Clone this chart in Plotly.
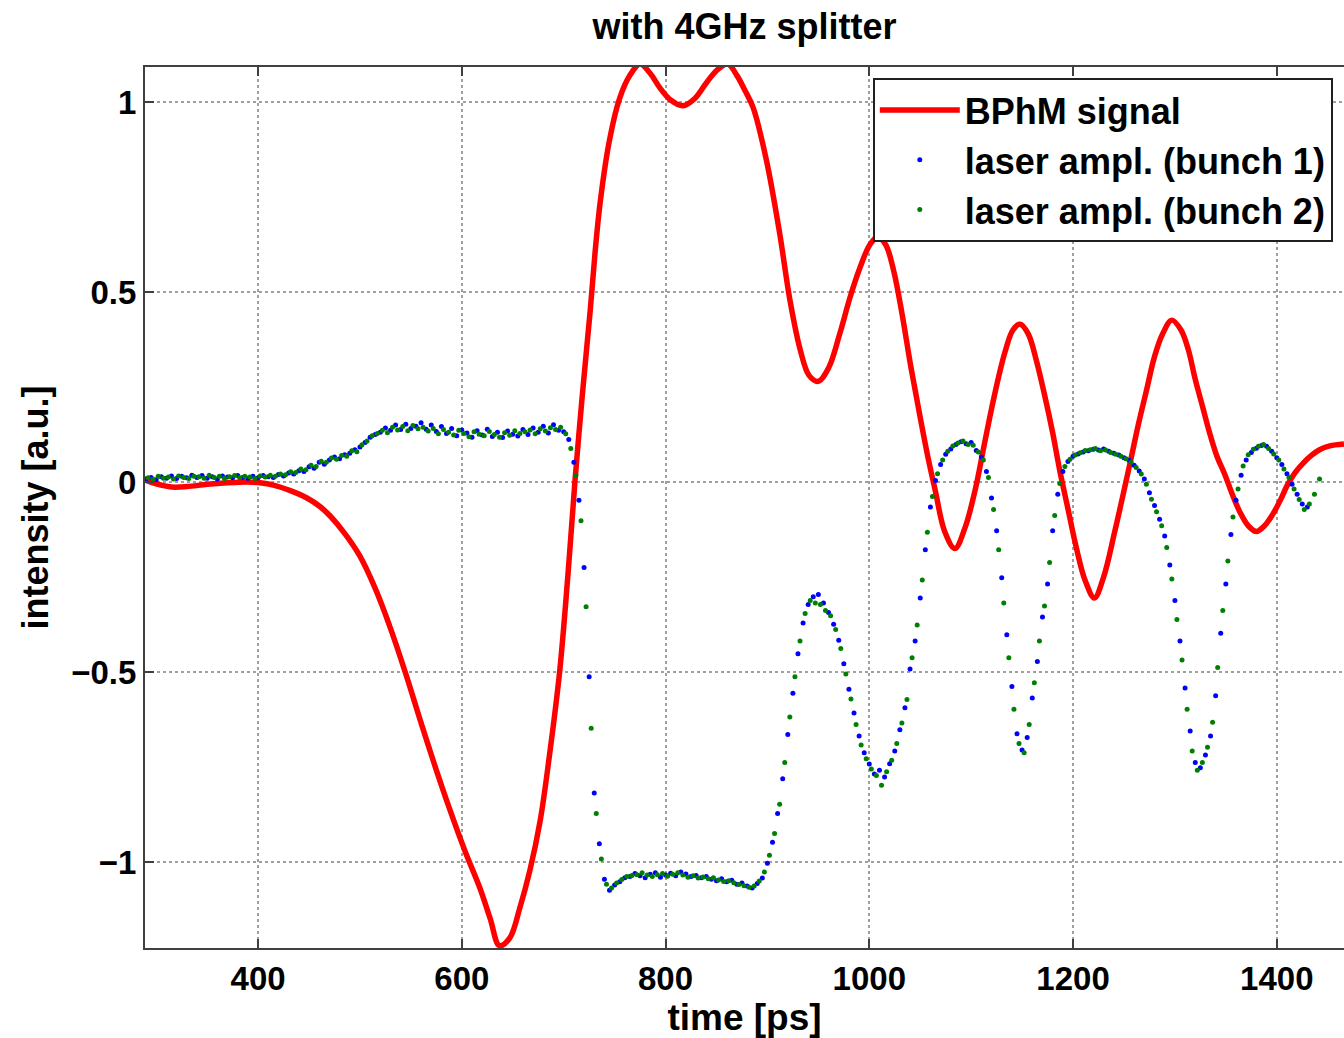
import numpy as np
import plotly.graph_objects as go

# ---------------- data ----------------
# BPhM signal (red line): time [ps] and intensity
bphm_t = [289, 300, 315, 330, 350, 370, 390, 402, 415, 431, 448, 461, 471, 485, 500,
          515, 530, 545, 559, 574, 588, 603, 618, 628, 637, 647, 657, 667, 677, 686,
          696, 704, 711, 718, 726, 731, 736, 745, 755, 765, 775, 785, 795, 805, 817,
          829, 840, 851, 861, 870, 878, 886, 899, 912, 922, 932, 941, 950, 960, 971,
          981, 991, 1000, 1008, 1016, 1024, 1032, 1041, 1050, 1058, 1065, 1074, 1084,
          1094, 1104, 1113, 1123, 1133, 1141, 1148, 1156, 1164, 1172, 1180, 1187, 1195,
          1203, 1212, 1221, 1230, 1241, 1256, 1264, 1272, 1280, 1288, 1297, 1306, 1313,
          1320, 1327, 1334, 1341, 1349, 1356, 1364, 1372, 1380, 1388, 1396, 1404, 1410,
          1418, 1426, 1434, 1442, 1452, 1466]
bphm_v = [0.005, -0.005, -0.013, -0.012, -0.006, -0.002, 0.0, -0.002, -0.008, -0.022,
          -0.042, -0.065, -0.09, -0.135, -0.195, -0.28, -0.385, -0.505, -0.625, -0.75,
          -0.86, -0.97, -1.07, -1.15, -1.22, -1.2, -1.12, -1.02, -0.89, -0.72, -0.5,
          -0.25, 0.0, 0.22, 0.45, 0.61, 0.74, 0.9, 1.01, 1.07, 1.1, 1.075, 1.035, 1.005,
          0.99, 1.01, 1.05, 1.085, 1.1, 1.07, 1.03, 0.985, 0.847, 0.655, 0.48, 0.35,
          0.28, 0.265, 0.3, 0.39, 0.485, 0.565, 0.622, 0.645, 0.625, 0.555, 0.445, 0.3,
          0.17, 0.06, -0.025, -0.13, -0.175, -0.12, -0.02, 0.1, 0.23, 0.34, 0.40, 0.415,
          0.39, 0.32, 0.23, 0.13, 0.03, -0.07, -0.17, -0.26, -0.305, -0.25, -0.13, 0.05,
          0.15, 0.24, 0.33, 0.39, 0.426, 0.40, 0.35, 0.27, 0.2, 0.13, 0.07, 0.02, -0.03,
          -0.08, -0.115, -0.13, -0.115, -0.085, -0.045, -0.01, 0.025, 0.05, 0.07, 0.085,
          0.095, 0.1]

# laser amplitude, bunch 1 (blue dots): sampled every 5 ps from 290 ps
b1_t0, b1_dt = 290, 5
b1_v = [
    0.008, 0.012, 0.006, 0.014, 0.010, 0.016, 0.009, 0.015, 0.011, 0.018,
    0.012, 0.017, 0.010, 0.014, 0.008, 0.016, 0.013, 0.011, 0.017, 0.012,
    0.010, 0.015, 0.011, 0.017, 0.014, 0.012, 0.020, 0.016, 0.024, 0.021,
    0.030, 0.028, 0.040, 0.036, 0.052, 0.047, 0.058, 0.066, 0.061, 0.072,
    0.076, 0.085, 0.092, 0.104, 0.118, 0.125, 0.131, 0.142, 0.136, 0.150,
    0.138, 0.152, 0.141, 0.147, 0.156, 0.139, 0.150, 0.133, 0.146, 0.128,
    0.141, 0.122, 0.137, 0.129, 0.118, 0.135, 0.124, 0.139, 0.120, 0.131,
    0.117, 0.134, 0.126, 0.121, 0.138, 0.125, 0.142, 0.131, 0.147, 0.129,
    0.151, 0.136, 0.132, 0.112, 0.052, -0.048, -0.225, -0.512, -0.818, -0.952,
    -1.045, -1.074, -1.060, -1.052, -1.041, -1.038, -1.030, -1.036, -1.041, -1.032,
    -1.028, -1.040, -1.034, -1.029, -1.036, -1.026, -1.031, -1.038, -1.035, -1.041,
    -1.038, -1.045, -1.049, -1.044, -1.052, -1.048, -1.058, -1.055, -1.063, -1.068,
    -1.056, -1.042, -1.003, -0.948, -0.872, -0.781, -0.664, -0.556, -0.452, -0.371,
    -0.322, -0.302, -0.296, -0.318, -0.343, -0.374, -0.416, -0.478, -0.545, -0.608,
    -0.668, -0.712, -0.742, -0.768, -0.758, -0.776, -0.741, -0.708, -0.652, -0.594,
    -0.492, -0.418, -0.305, -0.178, -0.066, 0.004, 0.046, 0.073, 0.087, 0.099,
    0.106, 0.101, 0.104, 0.083, 0.066, 0.028, -0.042, -0.128, -0.252, -0.402,
    -0.538, -0.662, -0.705, -0.672, -0.568, -0.472, -0.355, -0.268, -0.128, -0.032,
    0.028, 0.054, 0.068, 0.074, 0.079, 0.082, 0.086, 0.084, 0.087, 0.081,
    0.076, 0.071, 0.064, 0.057, 0.044, 0.029, 0.008, -0.028, -0.062, -0.098,
    -0.142, -0.218, -0.312, -0.418, -0.542, -0.655, -0.738, -0.752, -0.718, -0.668,
    -0.562, -0.398, -0.268, -0.138, -0.048, 0.018, 0.058, 0.078, 0.089, 0.096,
    0.094, 0.081, 0.064, 0.046, 0.022, -0.006, -0.032, -0.058, -0.066,
]

# laser amplitude, bunch 2 (green dots): sampled every 5 ps from 292 ps
b2_t0, b2_dt = 292, 5
b2_v = [
    0.011, 0.007, 0.015, 0.010, 0.013, 0.008, 0.016, 0.012, 0.009, 0.015,
    0.014, 0.010, 0.018, 0.012, 0.015, 0.009, 0.014, 0.017, 0.011, 0.015,
    0.013, 0.009, 0.016, 0.013, 0.018, 0.015, 0.021, 0.019, 0.027, 0.025,
    0.034, 0.032, 0.044, 0.041, 0.055, 0.052, 0.063, 0.060, 0.070, 0.068,
    0.082, 0.080, 0.098, 0.108, 0.122, 0.128, 0.136, 0.130, 0.144, 0.137,
    0.146, 0.135, 0.149, 0.140, 0.144, 0.134, 0.141, 0.127, 0.138, 0.131,
    0.124, 0.136, 0.128, 0.119, 0.132, 0.126, 0.122, 0.133, 0.125, 0.118,
    0.130, 0.123, 0.135, 0.128, 0.132, 0.137, 0.127, 0.140, 0.134, 0.143,
    0.138, 0.144, 0.127, 0.088, 0.018, -0.102, -0.328, -0.648, -0.872, -0.992,
    -1.058, -1.068, -1.055, -1.046, -1.038, -1.035, -1.033, -1.028, -1.034, -1.038,
    -1.033, -1.030, -1.037, -1.032, -1.028, -1.034, -1.040, -1.036, -1.042, -1.039,
    -1.044, -1.041, -1.047, -1.051, -1.049, -1.054, -1.059, -1.062, -1.066, -1.063,
    -1.050, -1.026, -0.982, -0.925, -0.848, -0.738, -0.618, -0.512, -0.418, -0.346,
    -0.312, -0.318, -0.322, -0.338, -0.352, -0.388, -0.438, -0.505, -0.571, -0.638,
    -0.692, -0.728, -0.755, -0.772, -0.798, -0.762, -0.732, -0.688, -0.634, -0.572,
    -0.462, -0.376, -0.258, -0.132, -0.038, 0.022, 0.058, 0.081, 0.095, 0.103,
    0.108, 0.099, 0.097, 0.079, 0.058, 0.012, -0.072, -0.178, -0.318, -0.462,
    -0.598, -0.688, -0.712, -0.638, -0.528, -0.418, -0.326, -0.212, -0.088, -0.004,
    0.041, 0.060, 0.071, 0.077, 0.083, 0.085, 0.088, 0.082, 0.084, 0.078,
    0.073, 0.068, 0.061, 0.052, 0.038, 0.021, -0.006, -0.045, -0.078, -0.115,
    -0.172, -0.255, -0.362, -0.468, -0.598, -0.708, -0.758, -0.738, -0.698, -0.632,
    -0.488, -0.338, -0.208, -0.092, -0.018, 0.042, 0.072, 0.086, 0.094, 0.099,
    0.088, 0.074, 0.058, 0.034, 0.012, -0.018, -0.046, -0.072, -0.058, -0.032,
    0.008,
]

x_ticks = [400, 600, 800, 1000, 1200, 1400]
y_ticks = [-1, -0.5, 0, 0.5, 1]
y_ticktext = ["\u22121", "\u22120.5", "0", "0.5", "1"]

b1_t = b1_t0 + b1_dt * np.arange(len(b1_v))
b2_t = b2_t0 + b2_dt * np.arange(len(b2_v))

# ---------------- figure ----------------
FONT = "Liberation Sans, Arial, Helvetica, sans-serif"

fig = go.Figure()
fig.add_trace(go.Scatter(x=bphm_t, y=bphm_v, mode="lines", name="BPhM signal",
                         line=dict(color="#ff0000", width=5.5, shape="spline", smoothing=1.0)))
fig.add_trace(go.Scatter(x=b1_t, y=b1_v, mode="markers", name="laser ampl. (bunch 1)",
                         marker=dict(color="#0000ff", size=5)))
fig.add_trace(go.Scatter(x=b2_t, y=b2_v, mode="markers", name="laser ampl. (bunch 2)",
                         marker=dict(color="#008000", size=5)))

axis_common = dict(
    showline=True, linecolor="#404040", linewidth=2,
    ticks="inside", ticklen=9, tickwidth=2, tickcolor="#404040",
    showgrid=True, gridcolor="#a0a0a0", gridwidth=1.5, griddash="dot",
    zeroline=False,
    tickfont=dict(family=FONT, size=33, color="black", weight="bold"),
)

fig.update_layout(
    width=1344, height=1038,
    margin=dict(l=145, r=0, t=67, b=90),
    paper_bgcolor="white", plot_bgcolor="white",
    font=dict(family=FONT, color="black", weight="bold"),
    title=dict(text="with 4GHz splitter", x=0.554, xanchor="center",
               y=1 - 26 / 1038, yanchor="middle",
               font=dict(family=FONT, size=36, color="black", weight="bold")),
    xaxis=dict(range=[289, 1466], tickvals=x_ticks, mirror="ticks",
               title=dict(text="time [ps]", standoff=4,
                          font=dict(family=FONT, size=37, color="black", weight="bold")),
               **axis_common),
    yaxis=dict(range=[-1.226, 1.092], tickvals=y_ticks, ticktext=y_ticktext, mirror=False,
               title=dict(text="intensity [a.u.]", standoff=12,
                          font=dict(family=FONT, size=36, color="black", weight="bold")),
               **axis_common),
    legend=dict(x=0.607, y=0.9875, xanchor="left", yanchor="top",
                bgcolor="white", bordercolor="#202020", borderwidth=2,
                font=dict(family=FONT, size=36, color="black", weight="bold"),
                itemwidth=80, tracegroupgap=0),
    showlegend=True,
)

fig.write_html("out.html")
